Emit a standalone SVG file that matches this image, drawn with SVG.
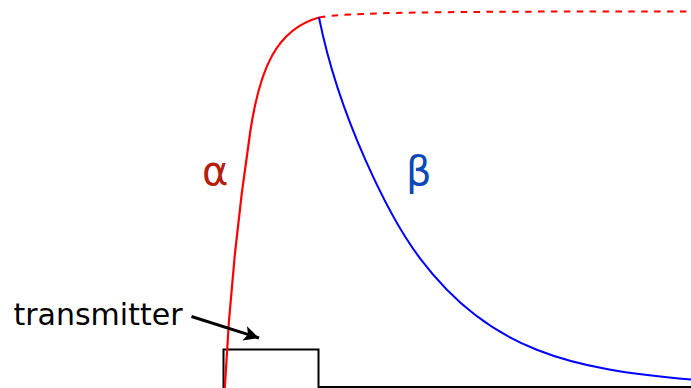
<svg xmlns="http://www.w3.org/2000/svg" width="691" height="388" viewBox="0 0 691 388">
  <style>
    .curve { fill: none; stroke-linejoin: round; stroke-linecap: butt; }
    .red { stroke: #ff0000; stroke-width: 2.2; }
    .dashed { stroke-dasharray: 6.5 6.4; stroke-width: 2; }
    .blue { stroke: #0000ff; stroke-width: 2; }
    .pulse { fill: none; stroke: #000000; stroke-width: 2; }
    .label { font-family: "DejaVu Sans", sans-serif; }
  </style>
  <defs>
    <marker id="arrowhead" markerUnits="userSpaceOnUse" markerWidth="18" markerHeight="16" refX="15" refY="7.5" orient="auto">
      <path d="M0,0 L15,7.5 L0,15 L3.5,7.5 Z" fill="#000000"/>
    </marker>
  </defs>
  <rect width="691" height="388" fill="#ffffff"/>

  <g id="transmitter-pulse">
    <path class="pulse" d="M223.5,388 V349.5 H318.5 V387 H691"/>
  </g>

  <g id="curves">
    <path id="alpha-rise" class="curve red" d="M224.8,388 C229,302 237.6,216 250.5,130 C259.8,70 275.8,29.5 319,17.5"/>
    <path id="alpha-continuation" class="curve red dashed" d="M319,17.5 C345,12.5 430,11.4 691,11.4"/>
    <path id="beta-decay" class="curve blue" d="M319,17.5 C339,117.5 389.7,218.3 420,258.3 C490,350.7 571,369.3 691,379.5"/>
  </g>

  <g id="connectors">
    <line x1="191.5" y1="316.5" x2="259" y2="338" stroke="#000000" stroke-width="3" marker-end="url(#arrowhead)"/>
  </g>

  <g id="transmitter-label">
    <text class="label" x="13.5" y="324.5" font-size="30" fill="#000000">transmitter</text>
  </g>
  <g id="alpha-label">
    <text class="label" x="202" y="185" font-size="40" fill="#b5200d">α</text>
  </g>
  <g id="beta-label">
    <text class="label" x="406" y="185" font-size="40" fill="#0b48b8">β</text>
  </g>
</svg>
